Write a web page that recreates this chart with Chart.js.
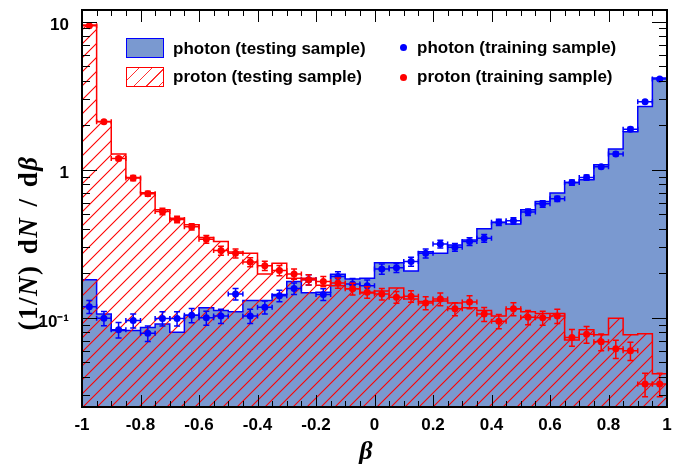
<!DOCTYPE html>
<html>
<head>
<meta charset="utf-8">
<script src="https://cdn.jsdelivr.net/npm/chart.js@4.4.1/dist/chart.umd.min.js"></script>
<style>
body { margin: 0; background: #fff; }
#wrap { position: relative; width: 699px; height: 466px; }
.lg { position: absolute; font: bold 17px "Liberation Sans", Arial, sans-serif; line-height: 20px; color: #000; white-space: nowrap; }
.box { position: absolute; width: 38px; height: 20px; box-sizing: border-box; }
.dot { position: absolute; width: 7px; height: 7px; border-radius: 50%; }
#ytitle { position: absolute; left: -102px; top: 228px; width: 260px; height: 30px; line-height: 30px; text-align: center;
  transform: rotate(-90deg); font: bold 27px "Liberation Serif", "Times New Roman", serif; letter-spacing: 1.5px; word-spacing: 2px; white-space: nowrap; }
#xtitle { position: absolute; left: 346px; top: 436px; width: 40px; text-align: center;
  font: bold italic 26px "Liberation Serif", "Times New Roman", serif; line-height: 30px; }
</style>
</head>
<body>
<div id="wrap">
<canvas id="myChart"></canvas>
<div class="box" style="left:126px;top:38px;background:rgb(122,153,208);border:1.5px solid #0000ff;"></div>
<div class="box" style="left:126px;top:67px;border:1px solid #ff0000;background:repeating-linear-gradient(135deg, transparent 0 8px, #ff3030 8px 9px);"></div>
<div class="lg" style="left:173px;top:39px;">photon (testing sample)</div>
<div class="lg" style="left:173px;top:67px;">proton (testing sample)</div>
<div class="dot" style="left:400px;top:44px;background:#0000ff;"></div>
<div class="dot" style="left:400px;top:74px;background:#ff0000;"></div>
<div class="lg" style="left:417px;top:38px;">photon (training sample)</div>
<div class="lg" style="left:417px;top:67px;">proton (training sample)</div>
<div id="ytitle">(1/<i>N</i>) d<i>N</i> / d<i>β</i></div>
<div id="xtitle">β</div>
</div>
<script>
// bin edges of beta
let bin_edges = [-1, -0.95, -0.9, -0.85, -0.8, -0.75, -0.7, -0.65, -0.6, -0.55, -0.5, -0.45, -0.4, -0.35, -0.3, -0.25, -0.2, -0.15, -0.1, -0.05,
	0, 0.05, 0.1, 0.15, 0.2, 0.25, 0.3, 0.35, 0.4, 0.45, 0.5, 0.55, 0.6, 0.65, 0.7, 0.75, 0.8, 0.85, 0.9, 0.95, 1];

let photon_test = [0.181, 0.106, 0.082, 0.082, 0.086, 0.091, 0.080, 0.104, 0.117, 0.112,
	0.110, 0.131, 0.131, 0.144, 0.176, 0.148, 0.149, 0.197, 0.183, 0.185,
	0.236, 0.236, 0.207, 0.280, 0.273, 0.310, 0.335, 0.400, 0.440, 0.430,
	0.537, 0.611, 0.696, 0.820, 0.856, 1.08, 1.38, 1.81, 2.68, 4.17];

let proton_test = [9.5, 2.12, 1.28, 0.887, 0.700, 0.537, 0.470, 0.425, 0.349, 0.328,
	0.278, 0.273, 0.198, 0.234, 0.185, 0.185, 0.166, 0.165, 0.157, 0.147,
	0.152, 0.159, 0.134, 0.129, 0.130, 0.126, 0.117, 0.112, 0.103, 0.115,
	0.110, 0.107, 0.107, 0.071, 0.083, 0.077, 0.0995, 0.077, 0.078, 0.042];

let photon_train = [0.119, 0.0994, 0.083, 0.0958, 0.0788, 0.099, 0.099, 0.104, 0.100, 0.103,
	0.145, 0.103, 0.118, 0.141, 0.158, 0.181, 0.144, 0.190, 0.169, 0.165,
	0.214, 0.218, 0.240, 0.273, 0.315, 0.300, 0.328, 0.345, 0.442, 0.452,
	0.518, 0.589, 0.637, 0.82, 0.887, 1.05, 1.28, 1.88, 2.88, 4.1];

let proton_train = [9.4, 2.11, 1.19, 0.879, 0.689, 0.523, 0.462, 0.412, 0.340, 0.285,
	0.273, 0.238, 0.225, 0.209, 0.198, 0.181, 0.176, 0.172, 0.157, 0.149,
	0.145, 0.138, 0.140, 0.126, 0.134, 0.115, 0.128, 0.106, 0.095, 0.115,
	0.101, 0.100, 0.103, 0.0738, 0.0775, 0.0689, 0.0619, 0.060, 0.0358, 0.0358];

// relative errors of the training points
let photon_err = [0.10, 0.11, 0.12, 0.11, 0.12, 0.11, 0.11, 0.11, 0.11, 0.11,
	0.09, 0.11, 0.10, 0.09, 0.09, 0.08, 0.09, 0.08, 0.09, 0.09,
	0.08, 0.07, 0.07, 0.07, 0.06, 0.06, 0.06, 0.06, 0.05, 0.05,
	0.05, 0.05, 0.04, 0.04, 0.04, 0.03, 0.03, 0.03, 0.02, 0.02];

let proton_err = [0.01, 0.02, 0.03, 0.04, 0.04, 0.05, 0.05, 0.05, 0.06, 0.07,
	0.07, 0.07, 0.07, 0.08, 0.08, 0.08, 0.08, 0.08, 0.09, 0.09,
	0.09, 0.09, 0.09, 0.10, 0.10, 0.10, 0.10, 0.11, 0.11, 0.10,
	0.11, 0.11, 0.11, 0.13, 0.13, 0.13, 0.14, 0.14, 0.18, 0.18];

let x_ticks = [-1, -0.8, -0.6, -0.4, -0.2, 0, 0.2, 0.4, 0.6, 0.8, 1];
let y_ticks = [0.1, 1, 10];
let y_labels = {0.1: "10\u207B\u00B9", 1: "1", 10: "10"};

let myChart;

function stepData(vals) {
	let out = [];
	for (let i = 0; i < vals.length; i++) {
		out.push({x: bin_edges[i], y: vals[i]});
		out.push({x: bin_edges[i + 1], y: vals[i]});
	}
	return out;
}

function pointData(vals) {
	let out = [];
	for (let i = 0; i < vals.length; i++) {
		out.push({x: (bin_edges[i] + bin_edges[i + 1]) / 2, y: vals[i]});
	}
	return out;
}

function makeHatch() {
	// red "/" hatch, 14 px period
	let c = document.createElement("canvas");
	c.width = 14; c.height = 14;
	let g = c.getContext("2d");
	g.strokeStyle = "#ff0000";
	g.lineWidth = 1.1;
	g.beginPath();
	g.moveTo(-2, 16); g.lineTo(16, -2);
	g.moveTo(-2, 2); g.lineTo(2, -2);
	g.moveTo(12, 16); g.lineTo(16, 12);
	g.stroke();
	return document.getElementById("myChart").getContext("2d").createPattern(c, "repeat");
}

// error bars for the training points
const errorBars = {
	id: "errorBars",
	afterDatasetDraw(chart, args) {
		let ds = chart.data.datasets[args.index];
		if (!ds.errRel) return;
		let ctx = chart.ctx, xs = chart.scales.x, ys = chart.scales.y;
		ctx.save();
		ctx.strokeStyle = ds.backgroundColor;
		ctx.lineWidth = 1.5;
		ds.data.forEach(function(p, i) {
			let e = ds.errRel[i];
			let xc = xs.getPixelForValue(p.x), yc = ys.getPixelForValue(p.y);
			let xl = xs.getPixelForValue(bin_edges[i]), xr = xs.getPixelForValue(bin_edges[i + 1]);
			let yl = ys.getPixelForValue(p.y * (1 - e)), yh = ys.getPixelForValue(p.y * (1 + e));
			ctx.beginPath();
			ctx.moveTo(xl, yc); ctx.lineTo(xr, yc);
			ctx.moveTo(xl, yc - 2.5); ctx.lineTo(xl, yc + 2.5);
			ctx.moveTo(xr, yc - 2.5); ctx.lineTo(xr, yc + 2.5);
			ctx.moveTo(xc, yl); ctx.lineTo(xc, yh);
			ctx.moveTo(xc - 3, yl); ctx.lineTo(xc + 3, yl);
			ctx.moveTo(xc - 3, yh); ctx.lineTo(xc + 3, yh);
			ctx.stroke();
		});
		ctx.restore();
	}
};

// frame with inward ticks on all four sides
const frameTicks = {
	id: "frameTicks",
	afterDraw(chart) {
		let ctx = chart.ctx, a = chart.chartArea, xs = chart.scales.x, ys = chart.scales.y;
		ctx.save();
		ctx.strokeStyle = "#000";
		ctx.lineWidth = 1;
		ctx.beginPath();
		for (let k = 0; k < bin_edges.length; k++) {
			let px = Math.round(xs.getPixelForValue(bin_edges[k])) + 0.5;
			let len = (k % 4 === 0) ? 12 : 6;
			ctx.moveTo(px, a.bottom); ctx.lineTo(px, a.bottom - len);
			ctx.moveTo(px, a.top); ctx.lineTo(px, a.top + len);
		}
		for (let d = -2; d <= 1; d++) {
			for (let m = 1; m <= 9; m++) {
				let v = m * Math.pow(10, d);
				if (v < ys.min || v > ys.max) continue;
				let py = Math.round(ys.getPixelForValue(v)) + 0.5;
				let len = (m === 1) ? 15 : 8;
				ctx.moveTo(a.left, py); ctx.lineTo(a.left + len, py);
				ctx.moveTo(a.right, py); ctx.lineTo(a.right - len, py);
			}
		}
		ctx.stroke();
		ctx.lineWidth = 2;
		ctx.strokeRect(a.left, a.top, a.right - a.left, a.bottom - a.top);
		ctx.restore();
	}
};

function openChart() {
	let data = {
		datasets: [{
			label: "photon (testing sample)",
			data: stepData(photon_test),
			borderColor: "#0000ff",
			backgroundColor: "rgb(122,153,208)",
			borderWidth: 1.5,
			pointRadius: 0,
			fill: "start",
			order: 4
		}, {
			label: "proton (testing sample)",
			data: stepData(proton_test),
			borderColor: "#ff0000",
			backgroundColor: makeHatch(),
			borderWidth: 1.5,
			pointRadius: 0,
			fill: "start",
			order: 3
		}, {
			type: "scatter",
			label: "photon (training sample)",
			data: pointData(photon_train),
			errRel: photon_err,
			backgroundColor: "#0000ff",
			borderWidth: 0,
			pointRadius: 3.5,
			order: 2
		}, {
			type: "scatter",
			label: "proton (training sample)",
			data: pointData(proton_train),
			errRel: proton_err,
			backgroundColor: "#ff0000",
			borderWidth: 0,
			pointRadius: 3.5,
			order: 1
		}]
	};
	let options = {
		animation: false,
		responsive: true,
		maintainAspectRatio: false,
		layout: { padding: { left: 0, top: 10, right: 32, bottom: 0 } },
		plugins: { legend: { display: false }, tooltip: { enabled: false } },
		scales: {
			x: {
				type: "linear",
				min: -1,
				max: 1,
				afterFit: function(s) { s.height = 59; s.paddingLeft = 0; s.paddingRight = 0; },
				afterBuildTicks: function(s) { s.ticks = x_ticks.map(v => ({value: v})); },
				grid: { display: false, drawTicks: false },
				border: { display: false },
				ticks: {
					padding: 8,
					color: "#000",
					font: { family: "'Liberation Sans', Arial, sans-serif", size: 17, weight: "bold" },
					callback: function(val) { return String(Math.round(val * 10) / 10); }
				}
			},
			y: {
				type: "logarithmic",
				min: 0.025,
				max: 12,
				afterFit: function(s) { s.width = 82; s.paddingTop = 0; s.paddingBottom = 0; },
				afterBuildTicks: function(s) { s.ticks = y_ticks.map(v => ({value: v})); },
				grid: { display: false, drawTicks: false },
				border: { display: false },
				ticks: {
					padding: 13,
					labelOffset: 4,
					color: "#000",
					font: { family: "'Liberation Sans', Arial, sans-serif", size: 17, weight: "bold" },
					callback: function(val) { return y_labels[val] || ""; }
				}
			}
		}
	};
	const ctx = document.getElementById("myChart").getContext("2d");
	myChart = new Chart(ctx, {type: "line", data, options, plugins: [errorBars, frameTicks]});
}

openChart();
</script>
</body>
</html>
